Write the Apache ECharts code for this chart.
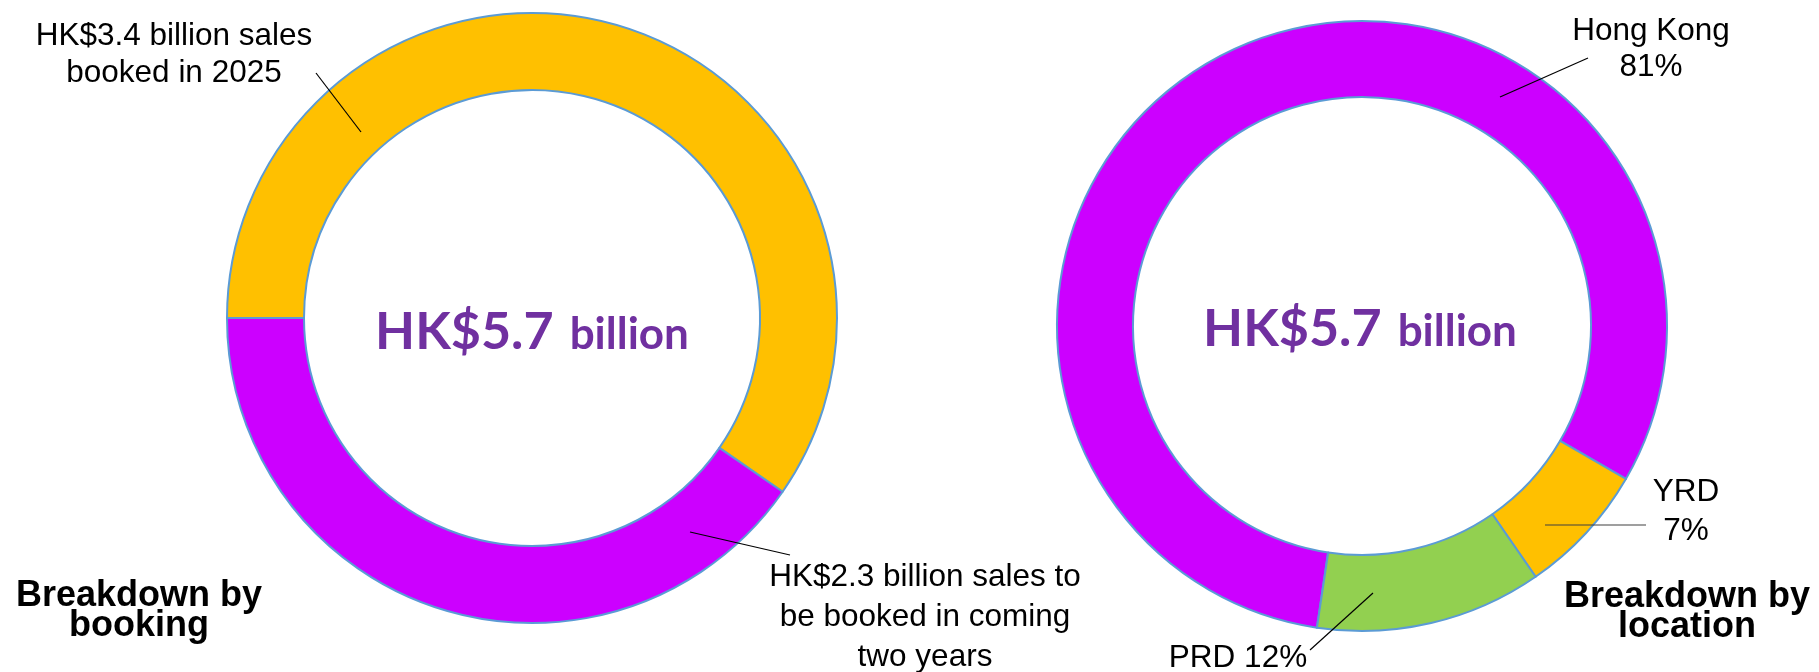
<!DOCTYPE html>
<html><head><meta charset="utf-8">
<script src="https://cdn.jsdelivr.net/npm/echarts@6/dist/echarts.min.js"></script>
<style>html,body{margin:0;padding:0;background:#fff}#chart{width:1819px;height:672px}</style>
</head><body><div id="chart"></div>
<script>
// ---- data ----
const bookingCategories = ['Booked in 2025', 'To be booked in coming two years'];
const bookingValues = [3.4, 2.3];
const bookingLabels = ['HK$3.4 billion sales\nbooked in 2025', 'HK$2.3 billion sales to\nbe booked in coming\ntwo years'];
const locationCategories = ['Hong Kong', 'YRD', 'PRD'];
const locationValues = [81, 7, 12];
const locationLabels = ['Hong Kong\n81%', 'YRD\n7%', 'PRD 12%'];
const totalText = ['HK$5.7', 'billion'];
const titles = ['Breakdown by\nbooking', 'Breakdown by\nlocation'];

// ---- styles ----
const FONT = '"Liberation Sans", Arial, sans-serif';
const bookingColors = ['#FFC000', '#CC00FF'];
const locationColors = ['#CC00FF', '#FFC000', '#92D050'];
const bookingLayout = [
  {x: 174, y: 55, lh: 37, line: [[316, 73], [361, 132]]},
  {x: 925, y: 617, lh: 40, line: [[790, 555], [690, 532]]}
];
const locationLayout = [
  {x: 1651, y: 49, lh: 36, line: [[1588, 58], [1500, 97]]},
  {x: 1686, y: 512, lh: 39, line: [[1646, 525], [1545, 525]], color: '#404040'},
  {x: 1238, y: 658, lh: 36, line: [[1310, 650], [1373, 593]]}
];

function mkLayout(layout) {
  return function (p) {
    const L = layout[p.dataIndex];
    return {x: L.x, y: L.y, align: 'center', verticalAlign: 'middle'};
  };
}
function mkData(cats, vals, labels, colors, layout) {
  return cats.map((c, i) => ({
    name: c, value: vals[i],
    itemStyle: {color: colors[i]},
    label: {formatter: labels[i], lineHeight: layout[i].lh}
  }));
}
function leaders(layout) {
  return layout.map(L => ({
    type: 'line', silent: true, z: 100,
    shape: {x1: L.line[0][0], y1: L.line[0][1], x2: L.line[1][0], y2: L.line[1][1]},
    style: {stroke: L.color || '#000', lineWidth: 1.2}
  }));
}
const common = {
  type: 'pie', silent: true, clockwise: true,
  itemStyle: {borderColor: '#5B9BD5', borderWidth: 2},
  label: {show: true, position: 'outside', color: '#000', fontFamily: FONT, fontSize: 31.5},
  labelLine: {show: false},
  emphasis: {disabled: true}
};

function centerText(x, y) {
  return {
    type: 'text', x: x, y: y, silent: true, z: 10,
    style: {
      text: '{a|' + totalText[0] + '}{b|' + totalText[1] + '}',
      align: 'center', verticalAlign: 'middle',
      rich: {
        a: {fontFamily: 'Lato', fontWeight: 'bold', fontSize: 52, fill: '#7030A0', lineHeight: 54, verticalAlign: 'bottom'},
        b: {fontFamily: 'Lato', fontWeight: 'bold', fontSize: 44, fill: '#7030A0', lineHeight: 44, verticalAlign: 'bottom', padding: [0, 0, 1, 16]}
      }
    }
  };
}
function titleText(x, y, t) {
  return {
    type: 'text', x: x, y: y, silent: true,
    style: {text: t, align: 'center', verticalAlign: 'middle', fill: '#000',
      font: 'bold 36px ' + FONT, lineHeight: 30}
  };
}

const chart = echarts.init(document.getElementById('chart'), null, {renderer: 'canvas'});
chart.setOption({
  animation: false,
  backgroundColor: '#fff',
  series: [
    Object.assign({}, common, {
      center: [532, 318], radius: [228, 305], startAngle: 180,
      labelLayout: mkLayout(bookingLayout),
      data: mkData(bookingCategories, bookingValues, bookingLabels, bookingColors, bookingLayout)
    }),
    Object.assign({}, common, {
      center: [1362, 326], radius: [229, 305], startAngle: 261.5,
      labelLayout: mkLayout(locationLayout),
      data: mkData(locationCategories, locationValues, locationLabels, locationColors, locationLayout)
    })
  ],
  graphic: [
    centerText(532, 331),
    centerText(1360, 328),
    titleText(139, 611, titles[0]),
    titleText(1687, 612, titles[1])
  ].concat(leaders(bookingLayout), leaders(locationLayout))
});
</script></body></html>
